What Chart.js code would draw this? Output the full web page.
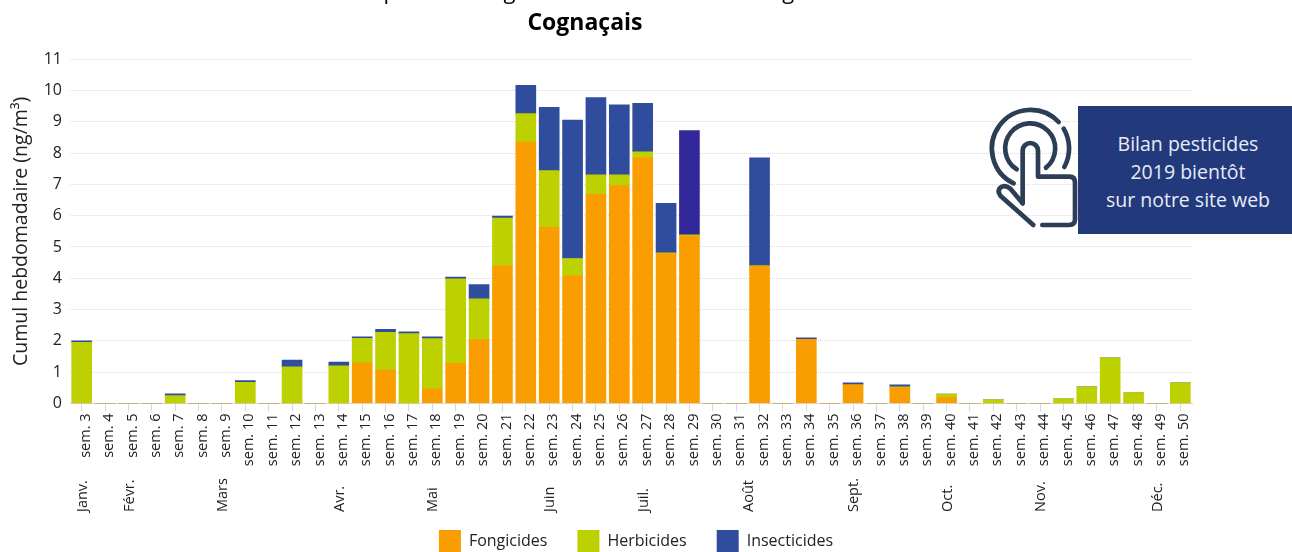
<!DOCTYPE html>
<html lang="fr">
<head>
<meta charset="utf-8">
<title>Cognaçais</title>
<script src="https://cdn.jsdelivr.net/npm/chart.js@4/dist/chart.umd.min.js"></script>
<style>
    html, body { margin: 0; padding: 0; background: #fff; overflow: hidden; }
    #zone { position: relative; width: 1292px; height: 552px; }
    #graphique { position: absolute; left: 0; top: 0; }
    #encart {
        position: absolute; left: 1078px; top: 106px; width: 214px; height: 128px;
        background: #22397c; color: #e8ecf6; text-align: center;
        font: 19.5px/28px "Open Sans", sans-serif; padding: 24px 0 0 6px; box-sizing: border-box;
    }
    #icone { position: absolute; left: 970px; top: 90px; }
</style>
</head>
<body>
<div id="zone">
    <canvas id="graphique" width="1292" height="552"></canvas>
    <!-- Icone "clic" de l'encart -->
    <svg id="icone" width="120" height="160" viewBox="0 0 360 480" fill="none" stroke="#2c3e56" stroke-width="14" stroke-linecap="round" stroke-linejoin="round">
        <path d="M131 280 A116 116 0 1 1 266 96"/>
        <path d="M281 116 A116 116 0 0 1 283 231"/>
        <path d="M140 238 A75 75 0 1 1 228 233"/>
        <path d="M158 340 L158 182 A23 23 0 0 1 204 182 L204 260 L298 260 Q315 260 315 278 L315 388 Q315 405 298 405 L217 405"/>
        <path d="M190 405 L92 318 Q80 303 92 292 Q105 283 120 295 L158 340"/>
    </svg>
    <div id="encart">Bilan pesticides<br>2019 bientôt<br>sur notre site web</div>
</div>
<script>
// Semaines de l'axe X
const SEMAINES = [3, 4, 5, 6, 7, 8, 9, 10, 11, 12, 13, 14, 15, 16, 17, 18, 19, 20, 21, 22, 23, 24, 25, 26,
    27, 28, 29, 30, 31, 32, 33, 34, 35, 36, 37, 38, 39, 40, 41, 42, 43, 44, 45, 46, 47, 48, 49, 50];
const ETIQUETTES = SEMAINES.map(s => 'sem. ' + s);

// Valeurs (ng/m3), une par semaine
const FONGICIDES = [0, 0, 0, 0, 0, 0, 0, 0, 0, 0, 0, 0, 1.30, 1.07, 0, 0.47, 1.28, 2.04, 4.40, 8.35, 5.63, 4.08, 6.68, 6.96,
    7.85, 4.79, 5.35, 0, 0, 4.40, 0, 2.05, 0, 0.60, 0, 0.51, 0, 0.19, 0, 0, 0, 0, 0, 0, 0, 0, 0, 0];
const HERBICIDES = [1.95, 0, 0, 0, 0.25, 0, 0, 0.68, 0, 1.17, 0, 1.20, 0.78, 1.20, 2.23, 1.60, 2.70, 1.30, 1.52, 0.91, 1.81, 0.55, 0.62, 0.34,
    0.19, 0.02, 0.04, 0, 0, 0, 0, 0, 0, 0, 0, 0.02, 0, 0.11, 0, 0.12, 0, 0, 0.16, 0.53, 1.46, 0.35, 0, 0.66];
const INSECTICIDES = [0.05, 0, 0, 0, 0.06, 0, 0, 0.05, 0, 0.22, 0, 0.12, 0.05, 0.10, 0.06, 0.06, 0.06, 0.46, 0.07, 0.90, 2.02, 4.42, 2.47, 2.24,
    1.55, 1.58, 3.33, 0, 0, 3.45, 0, 0.05, 0, 0.06, 0, 0.07, 0, 0, 0, 0, 0, 0, 0, 0, 0, 0, 0, 0];

// Mois de la deuxieme ligne et semaine sous laquelle ils tombent
const MOIS = ['Janv.', 'Févr.', 'Mars', 'Avr.', 'Mai', 'Juin', 'Juil.', 'Août', 'Sept.', 'Oct.', 'Nov.', 'Déc.'];
const MOIS_SEMAINE = [3, 5, 9, 14, 18, 23, 27, 31.5, 36, 40, 44, 49];

const POLICE = '"Open Sans", sans-serif';
const BLEU = '#304c9c';
const BLEU_S29 = '#33289a';

// Ecrit les mois sous les semaines, en partant du bas (pas possible avec un seul axe categorie)
const pluginMois = {
    id: 'mois',
    afterDraw(chart) {
        const ctx = chart.ctx;
        const x = chart.scales.x;
        ctx.save();
        ctx.font = '14.5px ' + POLICE;
        ctx.fillStyle = '#222';
        ctx.textAlign = 'left';
        ctx.textBaseline = 'middle';
        MOIS.forEach((m, i) => {
            ctx.save();
            ctx.translate(x.getPixelForValue(MOIS_SEMAINE[i] - SEMAINES[0]) + 1, 512);
            ctx.rotate(-Math.PI / 2);
            ctx.fillText(m, 0, 0);
            ctx.restore();
        });
        ctx.restore();
    }
};

// Ligne de titre coupee en haut de l'image : seul le bas des lettres reste visible
const pluginTitreCoupe = {
    id: 'titreCoupe',
    afterDraw(chart) {
        const ctx = chart.ctx;
        ctx.save();
        ctx.font = '22px ' + POLICE;
        ctx.fillStyle = '#000';
        ctx.textAlign = 'center';
        ctx.textBaseline = 'alphabetic';
        ctx.fillText('Les pesticides agricoles mesurés dans la région', 585, -1);
        ctx.restore();
    }
};

// Le titre et la legende ne sont pas centres au meme endroit sur l'image
const pluginDecalage = {
    id: 'decalage',
    afterLayout(chart) {
        chart.titleBlock.left -= 11;
        chart.titleBlock.right -= 11;
        chart.legend.left += 40;
        chart.legend.right += 40;
        chart.legend.top += 11;
        chart.legend.bottom += 11;
    }
};

const commun = { stack: 'a', barThickness: 20, borderWidth: 0 };

new Chart(document.getElementById('graphique'), {
    type: 'bar',
    data: {
        labels: ETIQUETTES,
        datasets: [
            { ...commun, label: 'Fongicides', data: FONGICIDES, backgroundColor: '#f99d00' },
            { ...commun, label: 'Herbicides', data: HERBICIDES, backgroundColor: '#bdd000' },
            { ...commun, label: 'Insecticides', data: INSECTICIDES,
              backgroundColor: SEMAINES.map(s => s === 29 ? BLEU_S29 : BLEU) }
        ]
    },
    plugins: [pluginMois, pluginTitreCoupe, pluginDecalage],
    options: {
        responsive: false,
        animation: false,
        layout: { padding: { left: 0, right: 100, top: 0, bottom: 0 } },
        scales: {
            x: {
                stacked: true,
                grid: { offset: false, drawOnChartArea: false, drawTicks: true, tickLength: 8, color: '#d8d8e0' },
                border: { color: '#d8d8e0' },
                ticks: {
                    autoSkip: false, minRotation: 90, maxRotation: 90, padding: 2, labelOffset: 4,
                    color: '#222', font: { family: POLICE, size: 14.5 }
                },
                afterFit(axe) { axe.height = 85.5; }
            },
            y: {
                stacked: true,
                min: 0,
                max: 11,
                grid: { color: '#dcdcdc', lineWidth: 1, tickLength: 0 },
                border: { display: false, dash: [1, 1] },
                ticks: { stepSize: 1, padding: 8, color: '#222', font: { family: POLICE, size: 16 } },
                title: {
                    display: true,
                    text: 'Cumul hebdomadaire (ng/m³)',
                    color: '#222',
                    font: { family: POLICE, size: 19.5 },
                    padding: { top: 10, bottom: 0 }
                },
                afterFit(axe) { axe.width = 70; }
            }
        },
        plugins: {
            legend: {
                position: 'bottom',
                labels: { boxWidth: 22, boxHeight: 23, padding: 30, color: '#222', font: { family: POLICE, size: 16 } }
            },
            title: {
                display: true,
                text: 'Cognaçais',
                color: '#000',
                font: { family: POLICE, size: 23, weight: 'bold' },
                padding: { top: 10, bottom: 21.5 }
            },
            tooltip: { enabled: false }
        }
    }
});
</script>
</body>
</html>
